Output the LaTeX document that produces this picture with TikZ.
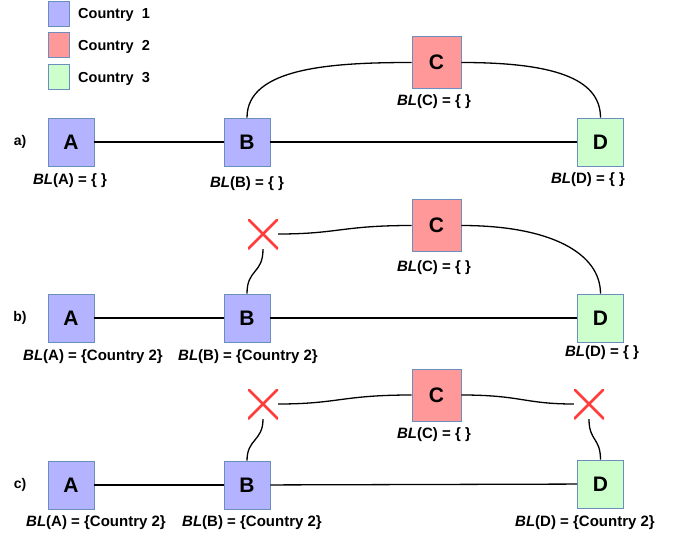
\documentclass[tikz,border=0pt]{standalone}
\usepackage{fontspec}
\setmainfont{Liberation Sans}
\definecolor{c1col}{RGB}{179,179,255}
\definecolor{c2col}{RGB}{255,153,153}
\definecolor{c3col}{RGB}{204,255,204}
\definecolor{bordercol}{RGB}{108,142,191}
\definecolor{xred}{RGB}{255,60,60}
\newcommand{\bl}[2]{{\bfseries\itshape BL}{\bfseries(#1) = #2}}
\begin{document}
\begin{tikzpicture}[x=1pt,y=-1pt,
  box/.style={draw=bordercol, line width=0.8pt, minimum width=46pt, minimum height=48pt, inner sep=0pt, font=\fontsize{21}{21}\selectfont\bfseries},
  cone/.style={box, fill=c1col},
  ctwo/.style={box, fill=c2col, minimum width=49pt, minimum height=52pt},
  cthree/.style={box, fill=c3col},
  legsq/.style={draw=bordercol, line width=0.8pt, minimum width=21pt, minimum height=25pt, inner sep=0pt},
  legtxt/.style={anchor=west, inner sep=0pt, font=\fontsize{14.5}{15}\selectfont\bfseries},
  lbl/.style={inner sep=0pt, font=\fontsize{15}{15}\selectfont},
  tag/.style={inner sep=0pt, font=\fontsize{14}{14}\selectfont\bfseries},
  wire/.style={line width=1.3pt},
  xmark/.style={minimum size=30pt, inner sep=0pt, path picture={\draw[xred, line width=2.8pt] (path picture bounding box.north west) -- (path picture bounding box.south east) (path picture bounding box.north east) -- (path picture bounding box.south west);}}
]
\useasboundingbox (0,0) rectangle (673,538);
% legend
\node[legsq, fill=c1col] (s1) at (58.5,13.5) {};
\node[legsq, fill=c2col] (s2) at (58.5,45) {};
\node[legsq, fill=c3col] (s3) at (58.5,77) {};
\node[legtxt] (t1) at (78,15) {Country~~1};
\node[legtxt] (t2) at (78,47) {Country~~2};
\node[legtxt] (t3) at (78,79) {Country~~3};
% panel a
\node[tag] (ta) at (20,142) {a)};
\node[cone] (Aa) at (71,142) {A};
\node[cone] (Ba) at (247,142) {B};
\node[ctwo] (Ca) at (436.5,62.5) {C};
\node[cthree] (Da) at (600.5,142) {D};
\node[lbl] (la) at (70,181) {\bl{A}{\{ \}}};
\node[lbl] (lb) at (247,184) {\bl{B}{\{ \}}};
\node[lbl] (lc) at (434,102) {\bl{C}{\{ \}}};
\node[lbl] (ld) at (588,180) {\bl{D}{\{ \}}};
\draw[wire] (Aa) -- (Ba);
\draw[wire] (Ba) -- (Da);
\draw[wire] (Ba.north) .. controls +(0,-50) and +(-80,0) .. (Ca.west);
\draw[wire] (Ca.east) .. controls +(90,0) and +(0,-40) .. (Da.north);
% panel b
\node[tag] (tb) at (20,318) {b)};
\node[cone] (Ab) at (71,318) {A};
\node[cone] (Bb) at (247,318) {B};
\node[ctwo] (Cb) at (436.5,225.5) {C};
\node[cthree] (Db) at (600.5,318) {D};
\node[xmark] (Xb) at (263,234) {};
\node[lbl] (lab) at (93,357) {\bl{A}{\{Country 2\}}};
\node[lbl] (lbb) at (248,357) {\bl{B}{\{Country 2\}}};
\node[lbl] (lcb) at (434,268) {\bl{C}{\{ \}}};
\node[lbl] (ldb) at (602,353) {\bl{D}{\{ \}}};
\draw[wire] (Ab) -- (Bb);
\draw[wire] (Bb) -- (Db);
\draw[wire] (Bb.north) .. controls +(0,-25) and +(0,25) .. (Xb.south);
\draw[wire] (Xb.east) .. controls +(60,0) and +(-70,0) .. (Cb.west);
\draw[wire] (Cb.east) .. controls +(90,0) and +(0,-40) .. (Db.north);
% panel c
\node[tag] (tc) at (20,485) {c)};
\node[cone] (Ac) at (71,485) {A};
\node[cone] (Bc) at (247,485) {B};
\node[ctwo] (Cc) at (436.5,395) {C};
\node[cthree] (Dc) at (600.5,484) {D};
\node[xmark] (Xc1) at (263,404) {};
\node[xmark] (Xc2) at (589,404) {};
\node[lbl] (lac) at (96,523) {\bl{A}{\{Country 2\}}};
\node[lbl] (lbc) at (252,523) {\bl{B}{\{Country 2\}}};
\node[lbl] (lcc) at (434,435) {\bl{C}{\{ \}}};
\node[lbl] (ldc) at (585,523) {\bl{D}{\{Country 2\}}};
\draw[wire] (Ac) -- (Bc);
\draw[wire] (Bc) -- (Dc);
\draw[wire] (Bc.north) .. controls +(0,-22) and +(0,22) .. (Xc1.south);
\draw[wire] (Xc1.east) .. controls +(60,0) and +(-70,0) .. (Cc.west);
\draw[wire] (Cc.east) .. controls +(60,0) and +(-50,0) .. (Xc2.west);
\draw[wire] (Xc2.south) .. controls +(0,22) and +(0,-22) .. (Dc.north);
\end{tikzpicture}
\end{document}
